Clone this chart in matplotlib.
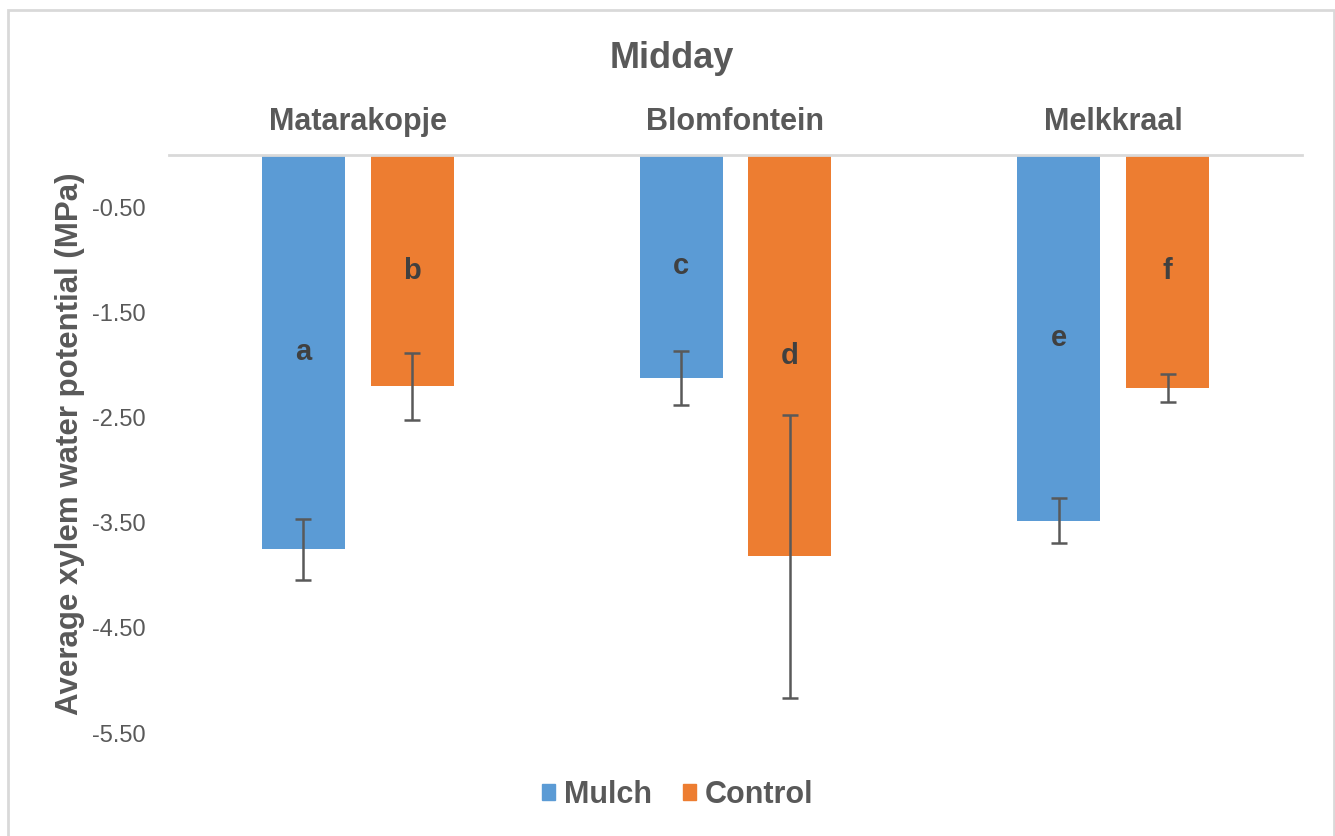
import numpy as np
import matplotlib
matplotlib.use("Agg")
import matplotlib.pyplot as plt
from matplotlib.patches import Patch, Rectangle

plt.rcParams["font.family"] = ["Liberation Sans", "DejaVu Sans"]

# 数据
sites = ["Matarakopje", "Blomfontein", "Melkkraal"]
mulch = [-3.75, -2.12, -3.48]
mulch_err = [0.29, 0.255, 0.215]
control = [-2.20, -3.82, -2.215]
control_err = [0.32, 1.35, 0.133]
mulch_letters = ["a", "c", "e"]
control_letters = ["b", "d", "f"]
yticks = [-0.5, -1.5, -2.5, -3.5, -4.5, -5.5]

blue = "#5B9BD5"
orange = "#ED7D31"
grey = "#595959"

fig = plt.figure(figsize=(13.35, 8.36), dpi=100)
ax = fig.add_axes([169 / 1335, 1 - 733 / 836, (1302 - 169) / 1335, (733 - 155) / 836])

x = np.arange(len(sites))
w = 0.22
off = 0.144
err_kw = dict(ecolor=grey, elinewidth=1.8, capsize=5.5, capthick=1.8)
b1 = ax.bar(x - off, mulch, w, color=blue, yerr=mulch_err, error_kw=err_kw, label="Mulch")
b2 = ax.bar(x + off, control, w, color=orange, yerr=control_err, error_kw=err_kw, label="Control")

# 字母标注
ax.bar_label(b1, labels=mulch_letters, label_type="center", fontsize=21,
             fontweight="bold", color="#404040")
ax.bar_label(b2, labels=control_letters, label_type="center", fontsize=21,
             fontweight="bold", color="#404040")

ax.set_xlim(-0.5, 2.5)
ax.set_ylim(-5.5, 0)
ax.set_yticks(yticks)
ax.set_yticklabels([f"{v:.2f}" for v in yticks])
ax.set_xticks(x)
ax.set_xticklabels(sites, fontsize=22, fontweight="bold", color=grey)
ax.tick_params(axis="x", top=True, labeltop=True, bottom=False, labelbottom=False,
               length=0, pad=13)
ax.tick_params(axis="y", length=0, labelsize=17, labelcolor=grey, pad=17)

for s in ["left", "right", "bottom"]:
    ax.spines[s].set_visible(False)
ax.spines["top"].set_color("#d9d9d9")
ax.spines["top"].set_linewidth(2)

ax.set_ylabel("Average xylem water potential (MPa)", fontsize=22.5,
              fontweight="bold", color=grey)
ax.yaxis.set_label_coords(-0.074, 0.5)

fig.text(672 / 1335, 1 - 58 / 836, "Midday", fontsize=26, fontweight="bold",
         color=grey, ha="center", va="center")

handles = [Patch(color=blue, label="Mulch"), Patch(color=orange, label="Control")]
leg = fig.legend(handles=handles, loc="center", bbox_to_anchor=(678 / 1335, 1 - 795 / 836),
                 ncol=2, frameon=False, prop={"size": 22, "weight": "bold"},
                 handlelength=0.42, handleheight=0.42, handletextpad=0.3, columnspacing=1.0)
for t in leg.get_texts():
    t.set_color(grey)

# 外框
fig.add_artist(Rectangle((8 / 1335, -0.1), (1334 - 8) / 1335, 1.1 - 10 / 836,
                         transform=fig.transFigure, fill=False,
                         edgecolor="#d9d9d9", linewidth=2))

fig.savefig("out.png", dpi=100)
